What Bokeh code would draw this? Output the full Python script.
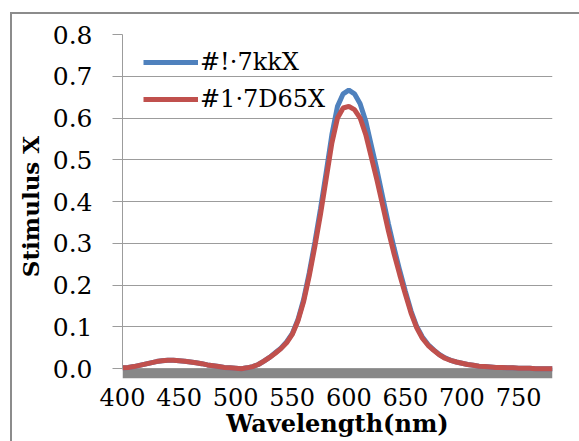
from bokeh.plotting import figure
from bokeh.models import (FixedTicker, PrintfTickFormatter, BoxAnnotation, Legend, LegendItem)
from bokeh.embed import file_html
from bokeh.resources import INLINE

wavelength = [400, 405, 410, 415, 420, 425, 430, 435, 440, 445, 450, 455, 460, 465, 470, 475,
              480, 485, 490, 495, 500, 505, 510, 515, 520, 525, 530, 535, 540, 545, 550, 555,
              560, 565, 570, 575, 580, 585, 590, 595, 600, 605, 610, 615, 620, 625, 630, 635,
              640, 645, 650, 655, 660, 665, 670, 675, 680, 685, 690, 695, 700, 705, 710, 715,
              720, 725, 730, 735, 740, 745, 750, 755, 760, 765, 770, 775, 780]

stim_kk = [0.002, 0.003, 0.005, 0.008, 0.011, 0.014, 0.017, 0.019, 0.020, 0.020, 0.019, 0.018,
           0.016, 0.014, 0.012, 0.009, 0.007, 0.005, 0.003, 0.002, 0.001, 0.000, 0.002, 0.005,
           0.010, 0.018, 0.027, 0.038, 0.049, 0.064, 0.084, 0.117, 0.165, 0.229, 0.303, 0.383,
           0.470, 0.560, 0.628, 0.658, 0.667, 0.658, 0.634, 0.592, 0.533, 0.474, 0.410, 0.347,
           0.289, 0.235, 0.185, 0.138, 0.101, 0.076, 0.058, 0.045, 0.034, 0.026, 0.020, 0.016,
           0.013, 0.010, 0.008, 0.006, 0.005, 0.004, 0.003, 0.003, 0.002, 0.002, 0.001, 0.001,
           0.001, 0.000, 0.000, 0.000, 0.000]

stim_d65 = [0.002, 0.003, 0.005, 0.008, 0.011, 0.014, 0.017, 0.019, 0.020, 0.020, 0.019, 0.018,
            0.016, 0.014, 0.012, 0.009, 0.007, 0.005, 0.003, 0.002, 0.001, 0.000, 0.002, 0.005,
            0.010, 0.018, 0.027, 0.037, 0.048, 0.062, 0.082, 0.114, 0.160, 0.222, 0.293, 0.370,
            0.455, 0.540, 0.600, 0.624, 0.628, 0.620, 0.600, 0.560, 0.505, 0.450, 0.390, 0.330,
            0.275, 0.225, 0.178, 0.133, 0.098, 0.073, 0.056, 0.044, 0.033, 0.025, 0.020, 0.016,
            0.013, 0.010, 0.008, 0.006, 0.005, 0.004, 0.003, 0.003, 0.002, 0.002, 0.001, 0.001,
            0.001, 0.000, 0.000, 0.000, 0.000]

series_names = ["#!\u00b77kkX", "#1\u00b77D65X"]
series_colors = ["#4F81BD", "#C0504D"]
x_ticks = [400, 450, 500, 550, 600, 650, 700, 750]
y_ticks = [0.0, 0.1, 0.2, 0.3, 0.4, 0.5, 0.6, 0.7, 0.8]

FONT = "DejaVu Serif"
GRID = "#9c9c9c"
FRAME = "#8c8c8c"

p = figure(width=579, height=441, output_backend="svg", toolbar_location=None,
           x_range=(400, 780), y_range=(-0.0235, 0.8),
           min_border_left=122, min_border_right=27, min_border_top=34, min_border_bottom=63)
p.outline_line_color = None
p.background_fill_color = "white"
p.border_fill_color = None
# Excel-style outer chart frame (left and top edges visible, rest cut off by the window)
p.styles = {
    "background": (f"linear-gradient({FRAME},{FRAME}) 10px 12px / 2px 100% no-repeat, "
                   f"linear-gradient({FRAME},{FRAME}) 10px 12px / 100% 2px no-repeat, white"),
}

# floor band below zero
floor = BoxAnnotation(top=0, fill_color="#878787", fill_alpha=1.0, line_alpha=0, level="underlay")
p.add_layout(floor)

r1 = p.line(wavelength, stim_kk, line_color=series_colors[0], line_width=5)
r2 = p.line(wavelength, stim_d65, line_color=series_colors[1], line_width=5)

# axes
p.xaxis.ticker = FixedTicker(ticks=x_ticks)
p.xaxis.axis_line_color = None
p.xaxis.major_tick_line_color = None
p.xaxis.minor_tick_line_color = None
p.xaxis.major_label_standoff = 3
p.xaxis.major_label_text_font = FONT
p.xaxis.major_label_text_font_size = "24px"
p.xaxis.major_label_text_color = "black"
p.xaxis.axis_label = "Wavelength(nm)"
p.xaxis.axis_label_text_font = FONT
p.xaxis.axis_label_text_font_style = "bold"
p.xaxis.axis_label_text_font_size = "24px"
p.xaxis.axis_label_text_color = "black"
p.xaxis.axis_label_standoff = 0

p.yaxis.ticker = FixedTicker(ticks=y_ticks)
p.yaxis.formatter = PrintfTickFormatter(format="%.1f")
p.yaxis.bounds = (0, 0.8)
p.yaxis.axis_line_color = GRID
p.yaxis.major_tick_line_color = GRID
p.yaxis.major_tick_out = 10
p.yaxis.major_tick_in = 0
p.yaxis.minor_tick_line_color = None
p.yaxis.major_label_standoff = 20
p.yaxis.major_label_text_font = FONT
p.yaxis.major_label_text_font_size = "25px"
p.yaxis.major_label_text_color = "black"
p.yaxis.axis_label = "Stimulus X"
p.yaxis.axis_label_text_font = FONT
p.yaxis.axis_label_text_font_style = "bold"
p.yaxis.axis_label_text_font_size = "23px"
p.yaxis.axis_label_text_color = "black"
p.yaxis.axis_label_standoff = 6

p.xgrid.grid_line_color = None
p.ygrid.ticker = FixedTicker(ticks=y_ticks)
p.ygrid.grid_line_color = GRID
p.ygrid.grid_line_width = 1

legend = Legend(items=[LegendItem(label=series_names[0], renderers=[r1]),
                       LegendItem(label=series_names[1], renderers=[r2])],
                location=(21, 265))
legend.background_fill_alpha = 0
legend.border_line_alpha = 0
legend.padding = 0
legend.margin = 0
legend.spacing = 9
legend.glyph_width = 55
legend.glyph_height = 28
legend.label_height = 28
legend.label_standoff = 2
legend.label_text_font = FONT
legend.label_text_font_size = "24px"
legend.label_text_color = "black"
p.add_layout(legend)

open("out.html", "w").write(file_html(p, INLINE))
